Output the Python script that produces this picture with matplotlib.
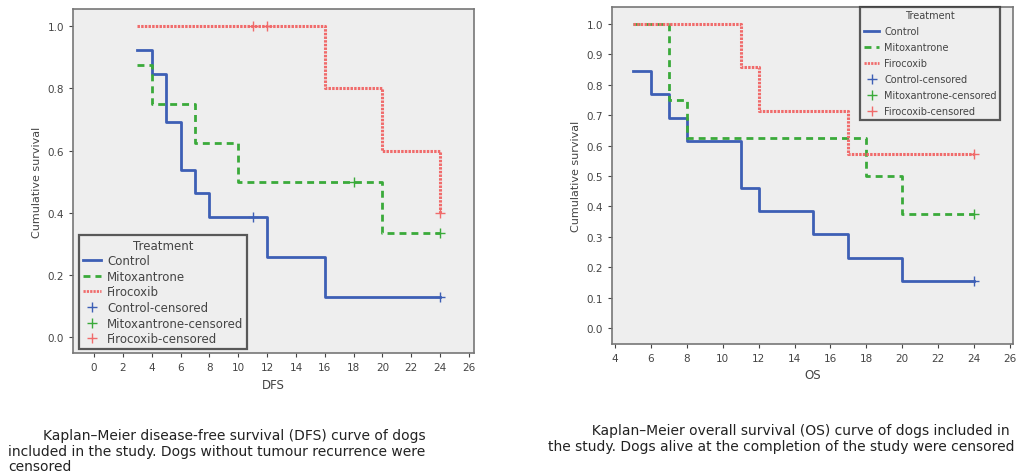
import matplotlib.pyplot as plt
from matplotlib.lines import Line2D

# DFS panel data (step curves: time, survival after step)
dfs_ctrl_t = [3, 4, 5, 6, 7, 8, 12, 16, 24]
dfs_ctrl_s = [0.923, 0.846, 0.692, 0.538, 0.462, 0.385, 0.256, 0.128, 0.128]
dfs_ctrl_cens_t = [11, 24]
dfs_ctrl_cens_s = [0.385, 0.128]

dfs_mito_t = [3, 4, 7, 10, 20, 24]
dfs_mito_s = [0.875, 0.75, 0.625, 0.5, 0.333, 0.333]
dfs_mito_cens_t = [18, 24]
dfs_mito_cens_s = [0.5, 0.333]

dfs_firo_t = [3, 16, 20, 24]
dfs_firo_s = [1.0, 0.8, 0.6, 0.4]
dfs_firo_cens_t = [11, 12, 24]
dfs_firo_cens_s = [1.0, 1.0, 0.4]

# OS panel data
os_ctrl_t = [5, 6, 7, 8, 11, 12, 15, 17, 20, 24]
os_ctrl_s = [0.846, 0.769, 0.692, 0.615, 0.462, 0.385, 0.308, 0.231, 0.154, 0.154]
os_ctrl_cens_t = [24]
os_ctrl_cens_s = [0.154]

os_mito_t = [5, 7, 8, 18, 20, 24]
os_mito_s = [1.0, 0.75, 0.625, 0.5, 0.375, 0.375]
os_mito_cens_t = [24]
os_mito_cens_s = [0.375]

os_firo_t = [5, 11, 12, 17, 24]
os_firo_s = [1.0, 0.857, 0.714, 0.571, 0.571]
os_firo_cens_t = [24]
os_firo_cens_s = [0.571]

groups = ['Control', 'Mitoxantrone', 'Firocoxib']
dfs_xticks = list(range(0, 27, 2))
os_xticks = list(range(4, 27, 2))

caption_dfs = ("        Kaplan\u2013Meier disease-free survival (DFS) curve of dogs\n"
               "included in the study. Dogs without tumour recurrence were\n"
               "censored")
caption_os = ("          Kaplan\u2013Meier overall survival (OS) curve of dogs included in\n"
              "the study. Dogs alive at the completion of the study were censored")

colors = {'Control': '#3d5fb5', 'Mitoxantrone': '#3aaa3a', 'Firocoxib': '#f06b6b'}
styles = {'Control': '-', 'Mitoxantrone': (0, (2.5, 1.8)), 'Firocoxib': (0, (0.8, 0.4))}
txtc = '#444444'


def km_panel(ax, curves, xlim, xticks, yticks, xlabel):
    ax.set_facecolor('#eeeeee')
    for name, (t, s, ct, cs) in zip(groups, curves):
        ax.step(t, s, where='post', color=colors[name], ls=styles[name],
                lw=2.2 if name == 'Firocoxib' else 2)
        ax.plot(ct, cs, '+', color=colors[name], ms=7, mew=1)
    ax.set_xlim(*xlim)
    ax.set_ylim(-0.052, 1.056)
    ax.set_xticks(xticks)
    ax.set_yticks(yticks)
    ax.set_yticklabels(['%.1f' % v for v in yticks])
    ax.tick_params(labelsize=7.5, colors=txtc, length=3, width=0.8)
    for sp in ax.spines.values():
        sp.set_color('#777777')
        sp.set_linewidth(1.2)
    ax.set_xlabel(xlabel, fontsize=8.5, color=txtc)
    ax.set_ylabel('Cumulative survival', fontsize=8, color=txtc)


def legend_handles():
    h = []
    for name in groups:
        h.append(Line2D([], [], color=colors[name], ls=styles[name], lw=2))
    for name in groups:
        h.append(Line2D([], [], color=colors[name], ls='none', marker='+', ms=7))
    labels = groups + [g + '-censored' for g in groups]
    return h, labels


def style_legend(leg):
    leg.get_frame().set_edgecolor('#333333')
    leg.get_frame().set_linewidth(1.6)
    leg.get_frame().set_facecolor('#eeeeee')
    leg.get_title().set_color(txtc)


fig = plt.figure(figsize=(10.21, 4.77), dpi=100)
ax1 = fig.add_axes([0.0715, 0.258, 0.3928, 0.721])
ax2 = fig.add_axes([0.5994, 0.277, 0.3928, 0.7065])

km_panel(ax1, [(dfs_ctrl_t, dfs_ctrl_s, dfs_ctrl_cens_t, dfs_ctrl_cens_s),
               (dfs_mito_t, dfs_mito_s, dfs_mito_cens_t, dfs_mito_cens_s),
               (dfs_firo_t, dfs_firo_s, dfs_firo_cens_t, dfs_firo_cens_s)],
         (-1.46, 26.35), dfs_xticks, [0.0, 0.2, 0.4, 0.6, 0.8, 1.0], 'DFS')
km_panel(ax2, [(os_ctrl_t, os_ctrl_s, os_ctrl_cens_t, os_ctrl_cens_s),
               (os_mito_t, os_mito_s, os_mito_cens_t, os_mito_cens_s),
               (os_firo_t, os_firo_s, os_firo_cens_t, os_firo_cens_s)],
         (3.83, 26.17), os_xticks, [i / 10 for i in range(11)], 'OS')

h, labels = legend_handles()
leg1 = ax1.legend(h, labels, title='Treatment', loc='lower left', bbox_to_anchor=(0.015, 0.012),
                  borderaxespad=0, fontsize=8.5, title_fontsize=8.5, frameon=True, fancybox=False,
                  handlelength=1.6, handletextpad=0.5, labelspacing=0.22, borderpad=0.3,
                  labelcolor=txtc)
style_legend(leg1)

leg2 = ax2.legend(h, labels, title='Treatment', loc='upper right', bbox_to_anchor=(0.968, 1.0),
                  borderaxespad=0, fontsize=7, title_fontsize=7, frameon=True, fancybox=False,
                  handlelength=1.6, handletextpad=0.5, labelspacing=0.62, borderpad=0.35,
                  labelcolor=txtc)
style_legend(leg2)

fig.text(0.008, 0.1, caption_dfs, fontsize=10, color='#222222', ha='left', va='top',
         linespacing=1.12)
fig.text(0.537, 0.111, caption_os, fontsize=10, color='#222222', ha='left', va='top',
         linespacing=1.15)

fig.savefig('out.png', dpi=100)
